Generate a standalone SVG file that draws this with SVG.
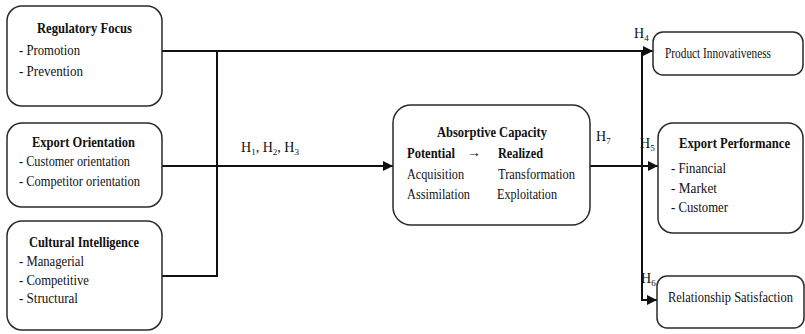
<svg xmlns="http://www.w3.org/2000/svg" width="805" height="334" viewBox="0 0 805 334">
<style>
.box{fill:#fff;stroke:#2a2a2a;stroke-width:1.5}
.ln{fill:none;stroke:#111;stroke-width:2}
text{font-family:"Liberation Serif","Times New Roman","DejaVu Serif",serif;font-size:14px;fill:#111}
.b{font-weight:bold}
.s{font-size:9px}
</style>
<defs>
<marker id="ah" viewBox="0 0 10 10" refX="10" refY="5" markerWidth="5" markerHeight="5" orient="auto" markerUnits="strokeWidth">
<path d="M0,0 L10,5 L0,10 z" fill="#111"/>
</marker>
</defs>
<rect width="805" height="334" fill="#fff"/>
<g id="connectors">
<path class="ln" d="M162,51 H653" marker-end="url(#ah)"/>
<path class="ln" d="M217,51 V276 H162"/>
<path class="ln" d="M162,166 H393" marker-end="url(#ah)"/>
<path class="ln" d="M590,166 H658" marker-end="url(#ah)"/>
<path class="ln" d="M642,51 V300 H657" marker-end="url(#ah)"/>
</g>
<g id="labels">
<text x="241" y="152">H<tspan class="s" dy="3">1</tspan><tspan dy="-3">, H</tspan><tspan class="s" dy="3">2</tspan><tspan dy="-3">, H</tspan><tspan class="s" dy="3">3</tspan></text>
<text x="634" y="38">H<tspan class="s" dy="3">4</tspan></text>
<text x="596" y="141">H<tspan class="s" dy="3">7</tspan></text>
<text x="640" y="148">H<tspan class="s" dy="3">5</tspan></text>
<text x="641" y="283">H<tspan class="s" dy="3">6</tspan></text>
</g>
<g id="regulatory-focus">
<rect class="box" x="7" y="6" width="155" height="100" rx="15"/>
<text class="b" x="37" y="33" textLength="95" lengthAdjust="spacingAndGlyphs">Regulatory Focus</text>
<text x="19" y="55" textLength="61" lengthAdjust="spacingAndGlyphs">- Promotion</text>
<text x="19" y="76" textLength="64" lengthAdjust="spacingAndGlyphs">- Prevention</text>
</g>
<g id="export-orientation">
<rect class="box" x="7" y="123" width="155" height="84" rx="15"/>
<text class="b" x="32" y="147" textLength="103" lengthAdjust="spacingAndGlyphs">Export Orientation</text>
<text x="19" y="166" textLength="111" lengthAdjust="spacingAndGlyphs">- Customer orientation</text>
<text x="19" y="186" textLength="121" lengthAdjust="spacingAndGlyphs">- Competitor orientation</text>
</g>
<g id="cultural-intelligence">
<rect class="box" x="7" y="221" width="155" height="109" rx="15"/>
<text class="b" x="29" y="247" textLength="110" lengthAdjust="spacingAndGlyphs">Cultural Intelligence</text>
<text x="19" y="266" textLength="65" lengthAdjust="spacingAndGlyphs">- Managerial</text>
<text x="19" y="285" textLength="70" lengthAdjust="spacingAndGlyphs">- Competitive</text>
<text x="19" y="303" textLength="59" lengthAdjust="spacingAndGlyphs">- Structural</text>
</g>
<g id="absorptive-capacity">
<rect class="box" x="393" y="105" width="197" height="120" rx="18"/>
<text class="b" x="437" y="137" textLength="110" lengthAdjust="spacingAndGlyphs">Absorptive Capacity</text>
<text class="b" x="407" y="158" textLength="48" lengthAdjust="spacingAndGlyphs">Potential</text>
<text class="b" x="467" y="157">→</text>
<text class="b" x="498" y="158" textLength="45" lengthAdjust="spacingAndGlyphs">Realized</text>
<text x="407" y="179" textLength="57" lengthAdjust="spacingAndGlyphs">Acquisition</text>
<text x="498" y="179" textLength="77" lengthAdjust="spacingAndGlyphs">Transformation</text>
<text x="407" y="199" textLength="63" lengthAdjust="spacingAndGlyphs">Assimilation</text>
<text x="497" y="199" textLength="60" lengthAdjust="spacingAndGlyphs">Exploitation</text>
</g>
<g id="product-innovativeness">
<rect class="box" x="653" y="32" width="150" height="43" rx="10"/>
<text x="665" y="58" textLength="106" lengthAdjust="spacingAndGlyphs">Product Innovativeness</text>
</g>
<g id="export-performance">
<rect class="box" x="658" y="123" width="145" height="110" rx="15"/>
<text class="b" x="679" y="148" textLength="111" lengthAdjust="spacingAndGlyphs">Export Performance</text>
<text x="671" y="173" textLength="55" lengthAdjust="spacingAndGlyphs">- Financial</text>
<text x="671" y="193" textLength="46" lengthAdjust="spacingAndGlyphs">- Market</text>
<text x="671" y="212" textLength="57" lengthAdjust="spacingAndGlyphs">- Customer</text>
</g>
<g id="relationship-satisfaction">
<rect class="box" x="657" y="276" width="147" height="52" rx="10"/>
<text x="668" y="302" textLength="125" lengthAdjust="spacingAndGlyphs">Relationship Satisfaction</text>
</g>
</svg>
